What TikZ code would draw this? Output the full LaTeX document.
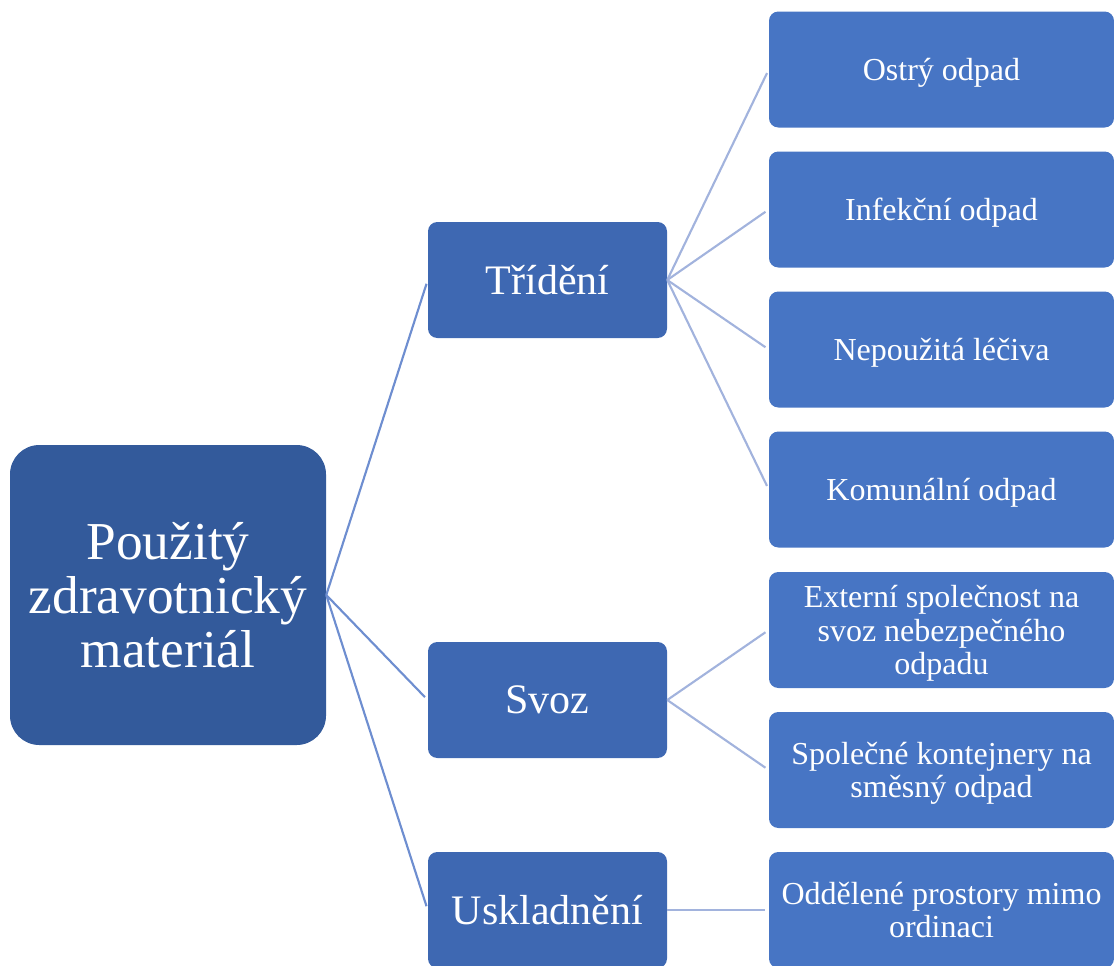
\documentclass[tikz,border=0pt]{standalone}
\usepackage{fontspec}
\setmainfont{Liberation Serif}
\definecolor{rootc}{HTML}{335A9B}
\definecolor{midc}{HTML}{3E68B2}
\definecolor{leafc}{HTML}{4775C4}
\definecolor{linea}{HTML}{6E8ED0}
\definecolor{lineb}{HTML}{A2B3DD}
\tikzset{
  rootbox/.style={fill=rootc, draw=none, rounded corners=22pt, minimum width=237pt, minimum height=225pt, inner sep=0pt, text=white, align=center, font=\fontsize{40}{40.5}\selectfont},
  midbox/.style={fill=midc, draw=none, rounded corners=7pt, minimum width=179.25pt, minimum height=87pt, inner sep=0pt, text=white, align=center, font=\fontsize{31.5}{37}\selectfont},
  leafbox/.style={fill=leafc, draw=none, rounded corners=7pt, minimum width=258.75pt, minimum height=87pt, inner sep=0pt, text depth=0pt, text=white, align=center, font=\fontsize{24}{25}\selectfont},
  conna/.style={draw=linea, line width=1.6pt, shorten >=3pt},
  connb/.style={draw=lineb, line width=1.6pt, shorten >=3pt}
}
\begin{document}
\begin{tikzpicture}[x=0.75pt,y=-0.75pt]
\useasboundingbox (0,0) rectangle (1114,965);
\clip (0,0) rectangle (1114,965);
\node[rootbox] (root) at (168,595) {Použitý\\zdravotnický\\materiál};
\node[midbox] (trid) at (547.5,280) {Třídění};
\node[midbox] (svoz) at (547.5,700) {Svoz};
\node[midbox] (uskl) at (547.5,910) {Uskladnění};
\node[leafbox] (ostry) at (941.5,69.5) {Ostrý odpad};
\node[leafbox] (infek) at (941.5,209.5) {Infekční odpad};
\node[leafbox] (nepou) at (941.5,349.5) {Nepoužitá léčiva};
\node[leafbox] (komun) at (941.5,489.5) {Komunální odpad};
\node[leafbox] (exter) at (941.5,630) {Externí společnost na\\svoz nebezpečného\\odpadu};
\node[leafbox] (spol) at (941.5,770) {Společné kontejnery na\\směsný odpad};
\node[leafbox] (odde) at (941.5,910) {Oddělené prostory mimo\\ordinaci};
\draw[conna] (root.east) -- (trid.west);
\draw[conna] (root.east) -- (svoz.west);
\draw[conna] (root.east) -- (uskl.west);
\draw[connb] (trid.east) -- (ostry.west);
\draw[connb] (trid.east) -- (infek.west);
\draw[connb] (trid.east) -- (nepou.west);
\draw[connb] (trid.east) -- (komun.west);
\draw[connb] (svoz.east) -- (exter.west);
\draw[connb] (svoz.east) -- (spol.west);
\draw[connb] (uskl.east) -- (odde.west);
\end{tikzpicture}
\end{document}
